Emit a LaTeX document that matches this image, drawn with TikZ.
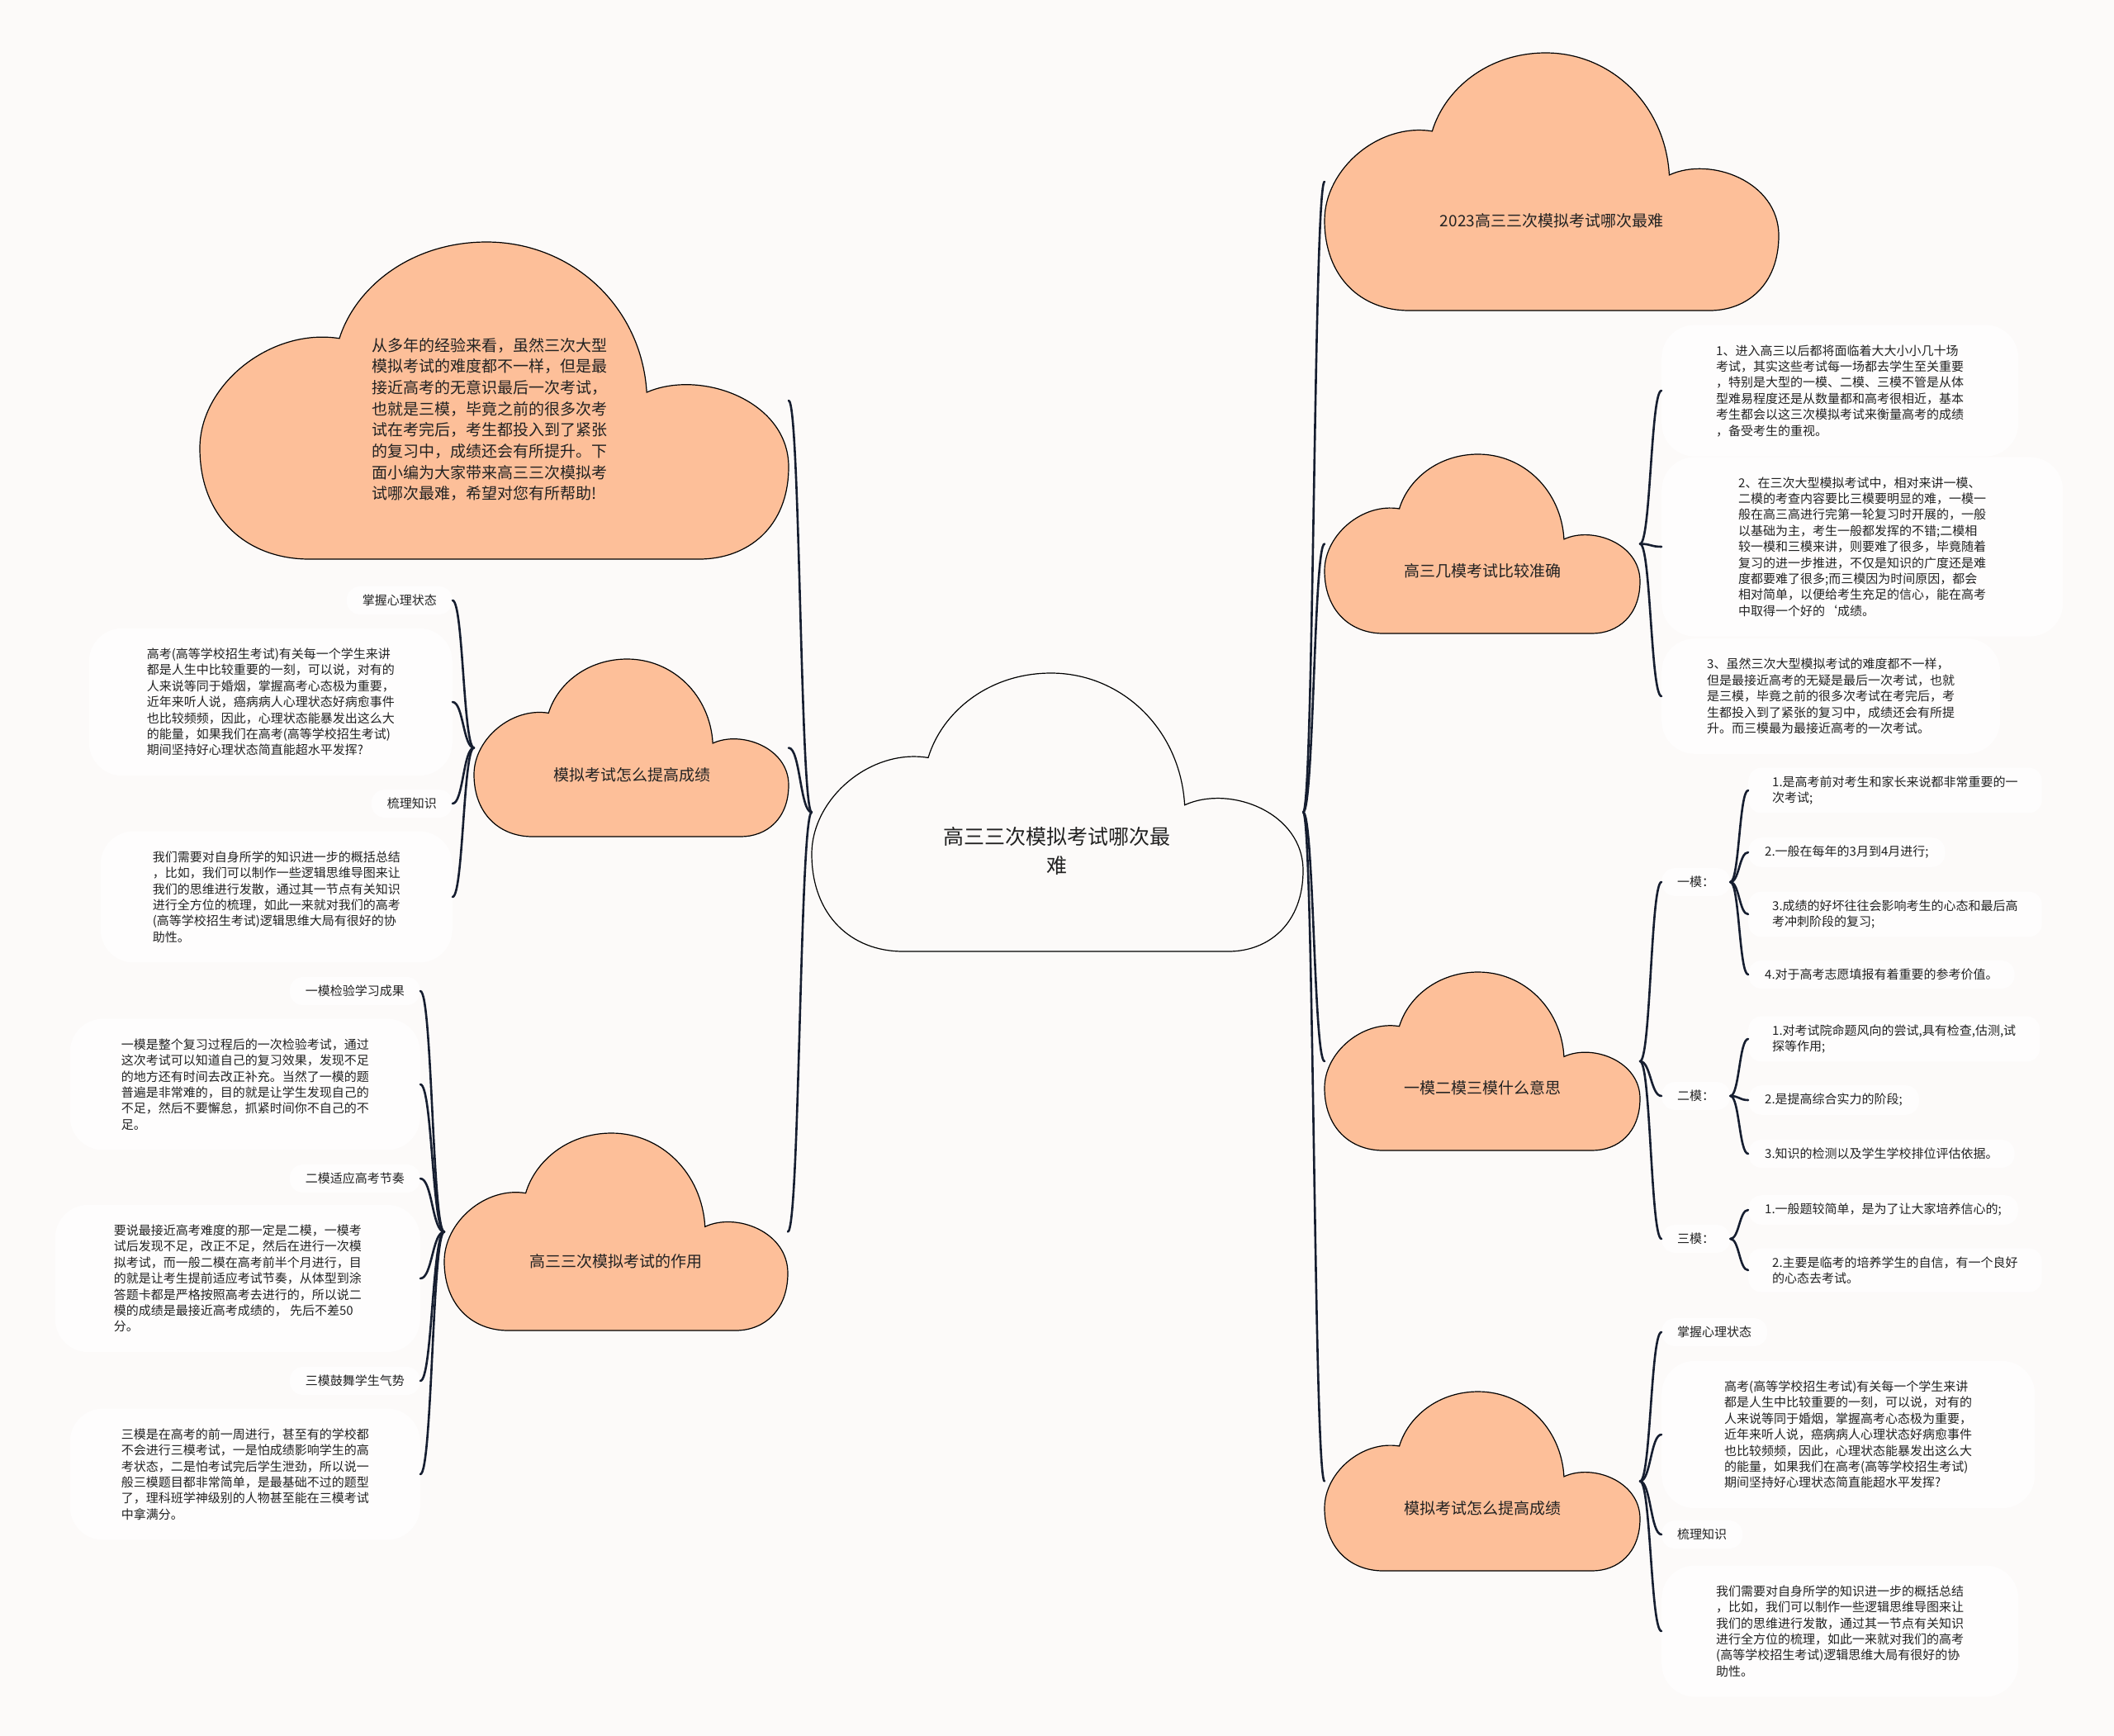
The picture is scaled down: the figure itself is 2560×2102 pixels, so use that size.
\documentclass[tikz,border=0pt]{standalone}
\usepackage{fontspec}
\setmainfont{Noto Sans CJK SC}
\usepackage{xcolor}
\usepackage{tikz}
\usetikzlibrary{calc}

\definecolor{fondo}{RGB}{252,250,249}
\definecolor{burbuja}{RGB}{254,253,253}
\definecolor{durazno}{RGB}{253,191,153}
\definecolor{linea}{RGB}{22,30,48}
\definecolor{texto}{RGB}{34,34,34}

\tikzset{
  caja/.style={inner sep=0pt, outer sep=0pt},
  rama/.style={draw=linea, line width=2.6pt, line cap=round,
    to path={let \p1=(\tikztostart), \p2=(\tikztotarget) in
      .. controls ({(\x1+\x2)/2},\y1) and ({(\x1+\x2)/2},\y2) .. (\tikztotarget)}},
  titulo/.style={text=texto, font={\fontsize{19}{25.7}\selectfont}, align=center},
  etiqueta/.style={text=texto, font={\fontsize{15}{19.4}\selectfont}, fill=burbuja,
    rounded corners=16pt, inner xsep=19pt, inner ysep=10pt},
  parrafo/.style={text=texto, font={\fontsize{15}{19.4}\selectfont}, align=left,
    fill=burbuja, rounded corners=40pt, inner xsep=65pt, inner ysep=24pt},
  punto/.style={etiqueta, align=left, inner xsep=20pt},
}

% nube: nombre, x, y (esquina superior izquierda), ancho, alto, relleno
\newcommand{\nube}[6]{%
  \begin{scope}[shift={(#2,#3)}, xscale=#4, yscale=#5]
    \filldraw[fill=#6, draw=black, line width=1.2pt]
      (0.186,1) .. controls (0.08,1) and (0,0.87) .. (0,0.65)
      .. controls (0,0.45) and (0.12,0.27) .. (0.237,0.304)
      .. controls (0.265,0.14) and (0.36,0) .. (0.487,0)
      .. controls (0.63,0) and (0.75,0.2) .. (0.759,0.474)
      .. controls (0.85,0.40) and (1,0.5) .. (1,0.709)
      .. controls (1,0.9) and (0.93,1) .. (0.848,1) -- cycle;
  \end{scope}
  \node[caja, minimum width=#4pt, minimum height=#5pt] (#1) at ({#2+#4/2},{#3+#5/2}) {};
}

\begin{document}
\begin{tikzpicture}[x=1pt, y=-1pt]
  % Fondo
  \fill[fondo] (0,0) rectangle (2560,2102);
  \useasboundingbox (0,0) rectangle (2560,2102);

  % Nubes
  \nube{raiz}{983}{815}{595}{337}{fondo}
  \nube{izqA}{242}{293}{713}{384}{durazno}
  \nube{izqB}{574}{798}{381}{215}{durazno}
  \nube{izqC}{538}{1372}{416}{239}{durazno}
  \nube{derA}{1604}{64}{550}{312}{durazno}
  \nube{derB}{1604}{550}{382}{217}{durazno}
  \nube{derC}{1604}{1177}{382}{216}{durazno}
  \nube{derD}{1604}{1685}{382}{217}{durazno}

  % Textos de las nubes
  \node[titulo, font={\fontsize{25}{35}\selectfont}] (raiz-t) at (1280,1030) {高三三次模拟考试哪次最\\难};
  \node[titulo, align=left] (izqA-t) at (593,508) {从多年的经验来看，虽然三次大型\\模拟考试的难度都不一样，但是最\\接近高考的无意识最后一次考试，\\也就是三模，毕竟之前的很多次考\\试在考完后，考生都投入到了紧张\\的复习中，成绩还会有所提升。下\\面小编为大家带来高三三次模拟考\\试哪次最难，希望对您有所帮助!};
  \node[titulo] (izqB-t) at (765,938) {模拟考试怎么提高成绩};
  \node[titulo] (izqC-t) at (746,1527) {高三三次模拟考试的作用};
  \node[titulo] (derA-t) at (1879,267) {2023高三三次模拟考试哪次最难};
  \node[titulo] (derB-t) at (1795,691) {高三几模考试比较准确};
  \node[titulo] (derC-t) at (1795,1317) {一模二模三模什么意思};
  \node[titulo] (derD-t) at (1795,1826) {模拟考试怎么提高成绩};

  % Izquierda: mejorar notas
  \node[etiqueta, anchor=east] (izqB1) at (548,727) {掌握心理状态};
  \node[parrafo, anchor=east, inner xsep=70pt] (izqB2) at (548,850) {高考(高等学校招生考试)有关每一个学生来讲\\都是人生中比较重要的一刻，可以说，对有的\\人来说等同于婚烟，掌握高考心态极为重要，\\近年来听人说，癌病病人心理状态好病愈事件\\也比较频频，因此，心理状态能暴发出这么大\\的能量，如果我们在高考(高等学校招生考试)\\期间坚持好心理状态简直能超水平发挥?};
  \node[etiqueta, anchor=east] (izqB3) at (548,973) {梳理知识};
  \node[parrafo, anchor=east, inner xsep=63pt] (izqB4) at (548,1086) {我们需要对自身所学的知识进一步的概括总结\\，比如，我们可以制作一些逻辑思维导图来让\\我们的思维进行发散，通过其一节点有关知识\\进行全方位的梳理，如此一来就对我们的高考\\(高等学校招生考试)逻辑思维大局有很好的协\\助性。};

  % Izquierda: el papel de los tres exámenes
  \node[etiqueta, anchor=east] (izqC1) at (509,1200) {一模检验学习成果};
  \node[parrafo, anchor=east, inner xsep=62pt] (izqC2) at (509,1313) {一模是整个复习过程后的一次检验考试，通过\\这次考试可以知道自己的复习效果，发现不足\\的地方还有时间去改正补充。当然了一模的题\\普遍是非常难的，目的就是让学生发现自己的\\不足，然后不要懈怠，抓紧时间你不自己的不\\足。};
  \node[etiqueta, anchor=east] (izqC3) at (509,1427) {二模适应高考节奏};
  \node[parrafo, anchor=east, inner xsep=71pt] (izqC4) at (509,1548) {要说最接近高考难度的那一定是二模，一模考\\试后发现不足，改正不足，然后在进行一次模\\拟考试，而一般二模在高考前半个月进行，目\\的就是让考生提前适应考试节奏，从体型到涂\\答题卡都是严格按照高考去进行的，所以说二\\模的成绩是最接近高考成绩的， 先后不差50\\分。};
  \node[etiqueta, anchor=east] (izqC5) at (509,1672) {三模鼓舞学生气势};
  \node[parrafo, anchor=east, inner xsep=62pt] (izqC6) at (509,1785) {三模是在高考的前一周进行，甚至有的学校都\\不会进行三模考试，一是怕成绩影响学生的高\\考状态，二是怕考试完后学生泄劲，所以说一\\般三模题目都非常简单，是最基础不过的题型\\了，理科班学神级别的人物甚至能在三模考试\\中拿满分。};

  % Derecha: cuál es más preciso
  \node[parrafo, anchor=west, inner xsep=66pt] (derB1) at (2012,473) {1、进入高三以后都将面临着大大小小几十场\\考试，其实这些考试每一场都去学生至关重要\\，特别是大型的一模、二模、三模不管是从体\\型难易程度还是从数量都和高考很相近，基本\\考生都会以这三次模拟考试来衡量高考的成绩\\，备受考生的重视。};
  \node[parrafo, anchor=west, inner xsep=93pt] (derB2) at (2012,662) {2、在三次大型模拟考试中，相对来讲一模、\\二模的考查内容要比三模要明显的难，一模一\\般在高三高进行完第一轮复习时开展的，一般\\以基础为主，考生一般都发挥的不错;二模相\\较一模和三模来讲，则要难了很多，毕竟随着\\复习的进一步推进，不仅是知识的广度还是难\\度都要难了很多;而三模因为时间原因，都会\\相对简单，以便给考生充足的信心，能在高考\\中取得一个好的`成绩。};
  \node[parrafo, anchor=west, inner xsep=55pt] (derB3) at (2012,843) {3、虽然三次大型模拟考试的难度都不一样，\\但是最接近高考的无疑是最后一次考试，也就\\是三模，毕竟之前的很多次考试在考完后，考\\生都投入到了紧张的复习中，成绩还会有所提\\升。而三模最为最接近高考的一次考试。};

  % Derecha: qué significan
  \node[etiqueta, anchor=west] (derC1) at (2012,1068) {一模：};
  \node[etiqueta, anchor=west] (derC2) at (2012,1327) {二模：};
  \node[etiqueta, anchor=west] (derC3) at (2012,1500) {三模：};
  \node[punto, anchor=west, inner xsep=29pt] (derC11) at (2117,957) {1.是高考前对考生和家长来说都非常重要的一\\次考试;};
  \node[punto, anchor=west] (derC12) at (2117,1032) {2.一般在每年的3月到4月进行;};
  \node[punto, anchor=west, inner xsep=29pt] (derC13) at (2117,1107) {3.成绩的好坏往往会影响考生的心态和最后高\\考冲刺阶段的复习;};
  \node[punto, anchor=west] (derC14) at (2117,1180) {4.对于高考志愿填报有着重要的参考价值。};
  \node[punto, anchor=west, inner xsep=29pt] (derC21) at (2117,1258) {1.对考试院命题风向的尝试,具有检查,估测,试\\探等作用;};
  \node[punto, anchor=west] (derC22) at (2117,1332) {2.是提高综合实力的阶段;};
  \node[punto, anchor=west] (derC23) at (2117,1397) {3.知识的检测以及学生学校排位评估依据。};
  \node[punto, anchor=west] (derC31) at (2117,1465) {1.一般题较简单，是为了让大家培养信心的;};
  \node[punto, anchor=west, inner xsep=29pt] (derC32) at (2117,1538) {2.主要是临考的培养学生的自信，有一个良好\\的心态去考试。};

  % Derecha: mejorar notas
  \node[etiqueta, anchor=west] (derD1) at (2012,1613) {掌握心理状态};
  \node[parrafo, anchor=west, inner xsep=76pt] (derD2) at (2012,1737) {高考(高等学校招生考试)有关每一个学生来讲\\都是人生中比较重要的一刻，可以说，对有的\\人来说等同于婚烟，掌握高考心态极为重要，\\近年来听人说，癌病病人心理状态好病愈事件\\也比较频频，因此，心理状态能暴发出这么大\\的能量，如果我们在高考(高等学校招生考试)\\期间坚持好心理状态简直能超水平发挥?};
  \node[etiqueta, anchor=west] (derD3) at (2012,1858) {梳理知识};
  \node[parrafo, anchor=west, inner xsep=66pt] (derD4) at (2012,1975) {我们需要对自身所学的知识进一步的概括总结\\，比如，我们可以制作一些逻辑思维导图来让\\我们的思维进行发散，通过其一节点有关知识\\进行全方位的梳理，如此一来就对我们的高考\\(高等学校招生考试)逻辑思维大局有很好的协\\助性。};

  % Ramas del centro
  \draw[rama] (raiz.west) to (izqA.east);
  \draw[rama] (raiz.west) to (izqB.east);
  \draw[rama] (raiz.west) to (izqC.east);
  \draw[rama] (raiz.east) to (derA.west);
  \draw[rama] (raiz.east) to (derB.west);
  \draw[rama] (raiz.east) to (derC.west);
  \draw[rama] (raiz.east) to (derD.west);

  % Ramas izquierdas
  \draw[rama] (izqB.west) to (izqB1.east);
  \draw[rama] (izqB.west) to (izqB2.east);
  \draw[rama] (izqB.west) to (izqB3.east);
  \draw[rama] (izqB.west) to (izqB4.east);
  \draw[rama] (izqC.west) to (izqC1.east);
  \draw[rama] (izqC.west) to (izqC2.east);
  \draw[rama] (izqC.west) to (izqC3.east);
  \draw[rama] (izqC.west) to (izqC4.east);
  \draw[rama] (izqC.west) to (izqC5.east);
  \draw[rama] (izqC.west) to (izqC6.east);

  % Ramas derechas
  \draw[rama] (derB.east) to (derB1.west);
  \draw[rama] (derB.east) to (derB2.west);
  \draw[rama] (derB.east) to (derB3.west);
  \draw[rama] (derC.east) to (derC1.west);
  \draw[rama] (derC.east) to (derC2.west);
  \draw[rama] (derC.east) to (derC3.west);
  \draw[rama] (derC1.east) to (derC11.west);
  \draw[rama] (derC1.east) to (derC12.west);
  \draw[rama] (derC1.east) to (derC13.west);
  \draw[rama] (derC1.east) to (derC14.west);
  \draw[rama] (derC2.east) to (derC21.west);
  \draw[rama] (derC2.east) to (derC22.west);
  \draw[rama] (derC2.east) to (derC23.west);
  \draw[rama] (derC3.east) to (derC31.west);
  \draw[rama] (derC3.east) to (derC32.west);
  \draw[rama] (derD.east) to (derD1.west);
  \draw[rama] (derD.east) to (derD2.west);
  \draw[rama] (derD.east) to (derD3.west);
  \draw[rama] (derD.east) to (derD4.west);
\end{tikzpicture}
\end{document}
